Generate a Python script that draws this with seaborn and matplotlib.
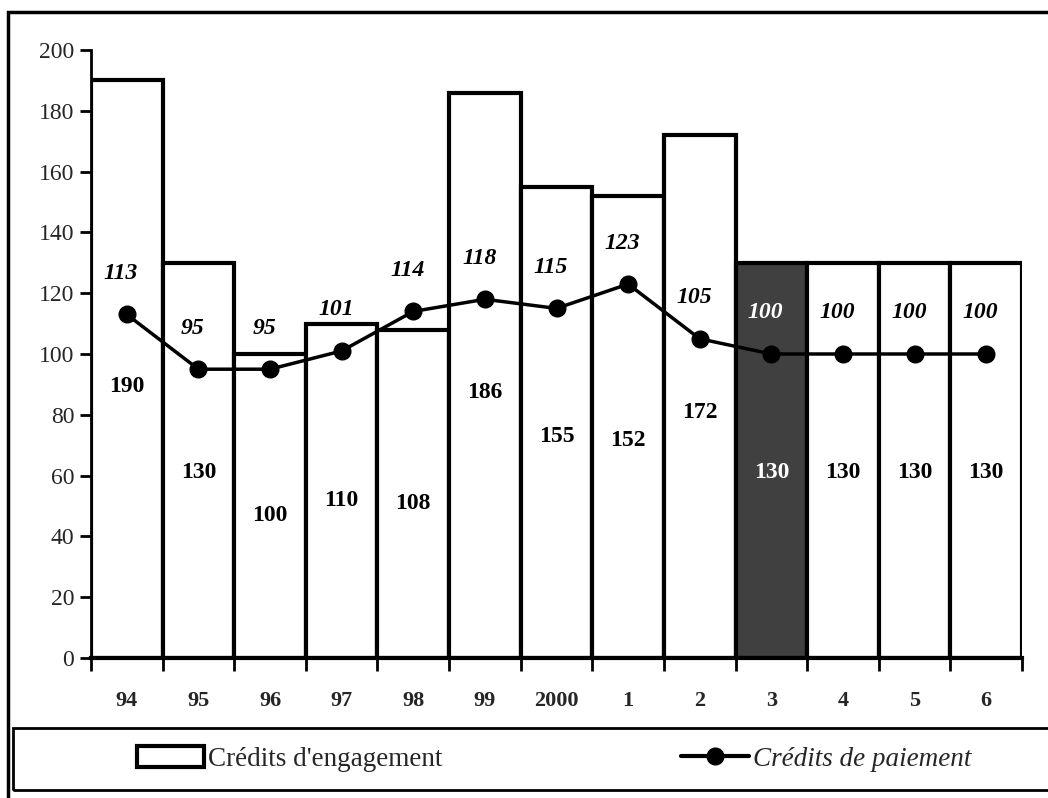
import matplotlib
matplotlib.use("Agg")
import matplotlib.pyplot as plt
import seaborn as sns
import numpy as np
from matplotlib.patches import Rectangle
from matplotlib.lines import Line2D

# data
years = ["94", "95", "96", "97", "98", "99", "2000", "1", "2", "3", "4", "5", "6"]
engagement = [190, 130, 100, 110, 108, 186, 155, 152, 172, 130, 130, 130, 130]
paiement = [113, 95, 95, 101, 114, 118, 115, 123, 105, 100, 100, 100, 100]
highlight = "3"

sns.set_style("white")
plt.rcParams['font.family'] = ['Liberation Serif', 'DejaVu Serif']

fig = plt.figure(figsize=(10.48, 7.98), dpi=100)
ax = fig.add_axes([91 / 1048, 1 - 658 / 798, (1022 - 91) / 1048, (658 - 50) / 798])

sns.barplot(x=years, y=engagement, color="white", edgecolor="black",
            linewidth=3, width=1.0, saturation=1, ax=ax)
dark = "#404040"
for patch, yr in zip(ax.patches, years):
    if yr == highlight:
        patch.set_facecolor(dark)

pos = np.arange(len(years))
ax.plot(pos, paiement, color="black", linewidth=2.5, marker="o", markersize=12, zorder=5)

# value labels
for i, (yr, e, p) in enumerate(zip(years, engagement, paiement)):
    col = "white" if yr == highlight else "black"
    ax.text(i, e * 0.47, str(e), ha="center", va="center", fontsize=17,
            fontweight="bold", color=col, zorder=6)
    ax.text(i - 0.08, p + 13.5, str(p), ha="center", va="center", fontsize=17,
            fontweight="bold", fontstyle="italic", color=col, zorder=6)

ax.set_xlim(-0.5, len(years) - 0.5)
ax.set_ylim(0, 200)
ax.set_yticks(range(0, 201, 20))
ax.set_xticks(pos)
ax.set_xticklabels(years, fontsize=16, fontweight="bold")
ax.set_xticks(np.arange(-0.5, len(years)), minor=True)
ax.tick_params(axis="x", which="major", bottom=True, length=0, pad=24)
ax.tick_params(axis="x", which="minor", bottom=True, length=9, width=2, direction="out", color="black")
ax.tick_params(axis="y", left=True, length=8, width=2, direction="out", color="black", labelsize=17, pad=4)
ax.set_xlabel("")
ax.set_ylabel("")
for s in ["top", "right"]:
    ax.spines[s].set_visible(False)
ax.spines["left"].set_linewidth(2)
ax.spines["bottom"].set_linewidth(3)
ax.spines["left"].set_color("black")
ax.spines["bottom"].set_color("black")

# outer border and legend frame
fig.patches.append(Rectangle((8 / 1048, -0.05), 1.1, 1.05 - 12 / 798,
                             transform=fig.transFigure, fill=False,
                             edgecolor="black", linewidth=2.5))
fig.patches.append(Rectangle((13 / 1048, 1 - 790 / 798), 1.1, (790 - 728) / 798,
                             transform=fig.transFigure, fill=False,
                             edgecolor="black", linewidth=2))

handles = [
    Rectangle((0, 0), 1, 1, facecolor="white", edgecolor="black", linewidth=3),
    Line2D([0], [0], color="black", linewidth=3, marker="o", markersize=12),
]
leg = fig.legend(handles, ["Crédits d'engagement", "Crédits de paiement"],
                 loc="center", bbox_to_anchor=(554 / 1048, 1 - 759 / 798),
                 ncol=2, frameon=False, fontsize=19.5, handlelength=2.5,
                 handleheight=0.8, handletextpad=0.15, columnspacing=8.8)
leg.get_texts()[1].set_fontstyle("italic")

fig.savefig("out.png", dpi=100)
